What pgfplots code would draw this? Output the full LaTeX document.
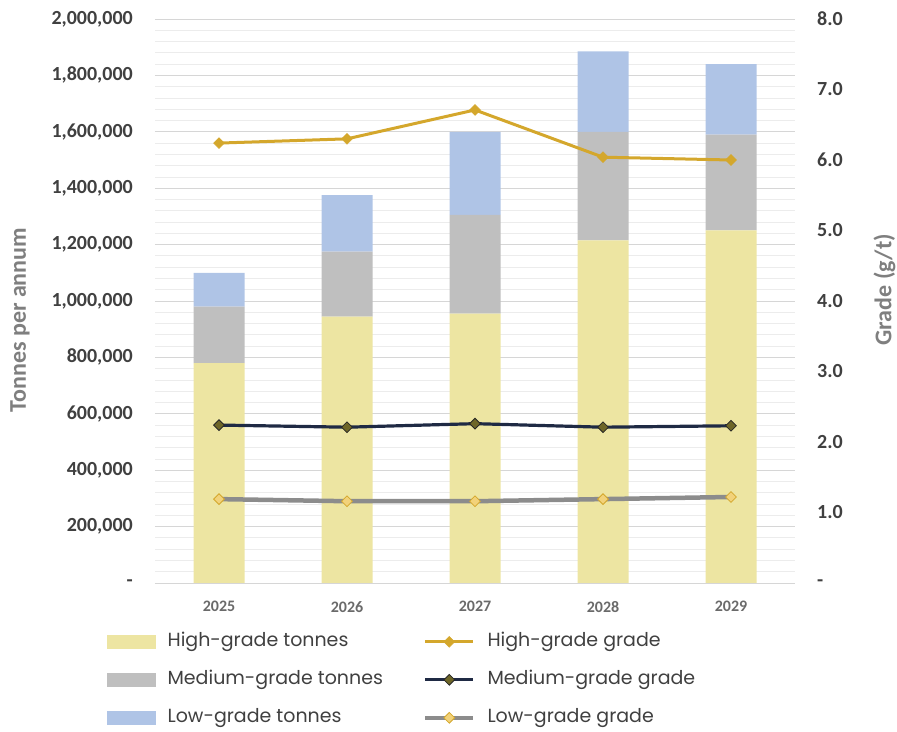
\documentclass[border=0pt]{standalone}
\usepackage{pgfplots}
\pgfplotsset{compat=1.18}
\usepackage{fontspec}
\setmainfont{Carlito}
\newfontfamily\legfont{Poppins}

\definecolor{hgbar}{HTML}{EDE5A2}
\definecolor{mgbar}{HTML}{BFBFBF}
\definecolor{lgbar}{HTML}{AFC4E6}
\definecolor{hgline}{HTML}{D4A72C}
\definecolor{mgline}{HTML}{1F2A44}
\definecolor{mgmark}{HTML}{6E6628}
\definecolor{lgline}{HTML}{8C8C8C}
\definecolor{lgmark}{HTML}{F2D27A}
\definecolor{gridmaj}{HTML}{D6D6D6}
\definecolor{gridmin}{HTML}{ECECEC}
\definecolor{ticktxt}{HTML}{404040}
\definecolor{yeartxt}{HTML}{595959}
\definecolor{titletxt}{HTML}{7F7F7F}

\pgfplotsset{
  common/.style={
    at={(155pt,148pt)}, anchor=south west,
    scale only axis, width=640pt, height=564pt,
    xmin=-0.5, xmax=4.5,
    clip=false,
    scaled y ticks=false,
    tick style={draw=none},
    y axis line style={draw=none},
    yticklabel style={font=\bfseries\fontsize{20}{22}\selectfont, text=ticktxt, inner sep=0pt},
    yticklabel shift=22pt,
  },
  barleg/.style={legend image code/.code={\fill[#1] (0pt,-6.5pt) rectangle (48pt,6.5pt);}},
  lineleg/.style={legend image code/.code={\draw[mark repeat=2,mark phase=2,##1] plot coordinates {(0pt,0pt) (24pt,0pt) (48pt,0pt)};}},
  hgstyle/.style={hgline, line width=3pt, mark=square*, mark size=3.8pt, mark options={rotate=45, fill=hgline, draw=hgline, line width=0.6pt}},
  mgstyle/.style={mgline, line width=3.2pt, mark=square*, mark size=3.8pt, mark options={rotate=45, fill=mgmark, draw=black!85, line width=0.8pt}},
  lgstyle/.style={lgline, line width=4.5pt, mark=square*, mark size=3.8pt, mark options={rotate=45, fill=lgmark, draw=hgline, line width=0.8pt}},
}

\begin{document}
\begin{tikzpicture}
\path[use as bounding box] (0pt,0pt) rectangle (897pt,731pt);

% left axis: stacked tonnes
\begin{axis}[common,
  ymin=0, ymax=2000000,
  ybar stacked, bar width=51pt,
  axis x line*=bottom, axis y line*=left,
  x axis line style={draw=gridmaj, line width=0.8pt},
  xtick={0,1,2,3,4},
  xticklabels={2025,2026,2027,2028,2029},
  xticklabel style={font=\bfseries\fontsize{16}{18}\selectfont, text=yeartxt!90, inner sep=0pt},
  xticklabel shift=18pt,
  ytick={0,200000,400000,600000,800000,1000000,1200000,1400000,1600000,1800000,2000000},
  yticklabels={-,{200,000},{400,000},{600,000},{800,000},{1,000,000},{1,200,000},{1,400,000},{1,600,000},{1,800,000},{2,000,000}},
  minor y tick num=4,
  ymajorgrids, yminorgrids,
  major grid style={draw=gridmaj, line width=0.8pt},
  minor grid style={draw=gridmin, line width=0.8pt},
  every axis y label/.style={at={(axis description cs:-0.211,0.466)}, rotate=90, anchor=center},
  ylabel={Tonnes per annum},
  ylabel style={font=\bfseries\fontsize{24}{26}\selectfont, text=titletxt},
]
\addplot[fill=hgbar, draw=none] coordinates {(0,780000) (1,945000) (2,955000) (3,1215000) (4,1250000)};
\addplot[fill=mgbar, draw=none] coordinates {(0,200000) (1,230000) (2,350000) (3,385000) (4,340000)};
\addplot[fill=lgbar, draw=none] coordinates {(0,120000) (1,200000) (2,295000) (3,285000) (4,250000)};
\end{axis}

% right axis: grades
\begin{axis}[common,
  ymin=0, ymax=8,
  axis x line=none, axis y line*=right,
  ytick={0,1,2,3,4,5,6,7,8},
  yticklabels={-,1.0,2.0,3.0,4.0,5.0,6.0,7.0,8.0},
  every axis y label/.style={at={(axis description cs:1.14,0.52)}, rotate=90, anchor=center},
  ylabel={Grade (g/t)},
  ylabel style={font=\bfseries\fontsize{24}{26}\selectfont, text=titletxt},
  legend columns=2,
  legend cell align=left,
  legend style={draw=none, fill=none, inner sep=0pt, at={(axis description cs:-0.075,-0.088)}, anchor=north west,
    font=\legfont\fontsize{19}{21}\selectfont, text=ticktxt, row sep=20pt,
    nodes={inner sep=0pt, text height=14pt, text depth=4pt},
    /tikz/every odd column/.append style={column sep=12pt},
    /tikz/every even column/.append style={column sep=40pt}},
]
\addplot[hgstyle, forget plot] coordinates {(0,6.24) (1,6.30) (2,6.71) (3,6.04) (4,6.00)};
\addplot[mgstyle, forget plot] coordinates {(0,2.24) (1,2.21) (2,2.26) (3,2.21) (4,2.23)};
\addplot[lgstyle, forget plot] coordinates {(0,1.19) (1,1.16) (2,1.16) (3,1.19) (4,1.22)};

\addlegendimage{barleg=hgbar}
\addlegendentry{High-grade tonnes}
\addlegendimage{lineleg, hgstyle}
\addlegendentry{High-grade grade}
\addlegendimage{barleg=mgbar}
\addlegendentry{Medium-grade tonnes}
\addlegendimage{lineleg, mgstyle}
\addlegendentry{Medium-grade grade}
\addlegendimage{barleg=lgbar}
\addlegendentry{Low-grade tonnes}
\addlegendimage{lineleg, lgstyle}
\addlegendentry{Low-grade grade}
\end{axis}
\end{tikzpicture}
\end{document}
